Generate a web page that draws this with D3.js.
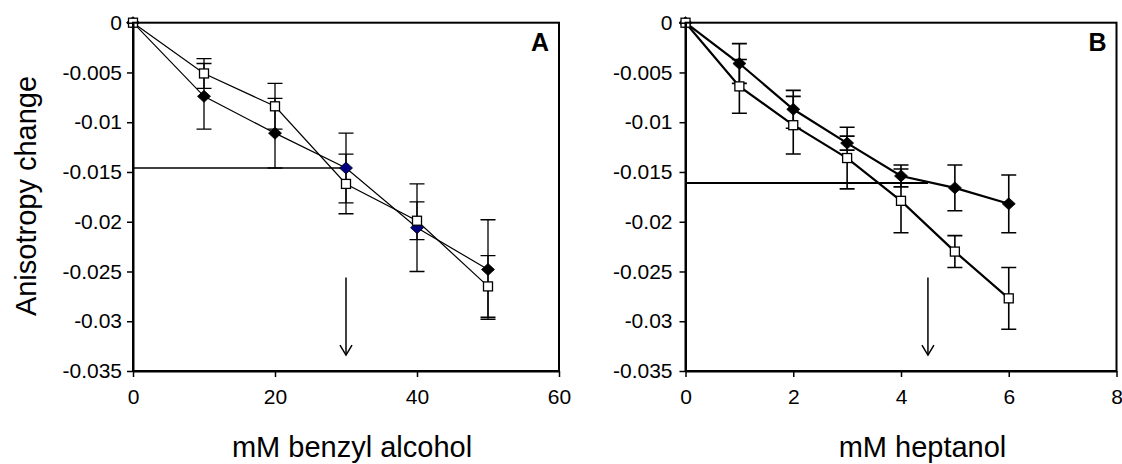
<!DOCTYPE html>
<html>
<head>
  <meta charset="utf-8">
  <title>Anisotropy change</title>
  <script src="https://d3js.org/d3.v7.min.js"></script>
  <style>
    body { margin: 0; background: #fff; }
    svg text { font-family: "Liberation Sans", Arial, sans-serif; fill: #000; }
    .axis path, .axis line { stroke: #000; }
  </style>
</head>
<body>
  <svg id="chart" width="1122" height="464"></svg>
  <script>
    // panel A: benzyl alcohol
    var concA = [0, 10, 20, 30, 40, 50],
        squareA = [0, -0.0051, -0.0084, -0.0162, -0.0199, -0.0265],
        squareAErr = [0, 0.0015, 0.0023, 0.0030, 0.0019, 0.0031],
        diamondA = [0, -0.0074, -0.0111, -0.0146, -0.0206, -0.0248],
        diamondAErr = [0, 0.0033, 0.0035, 0.0035, 0.0044, 0.0050],
        refA = { x: 30, y: -0.0146 };

    // panel B: heptanol
    var concB = [0, 1, 2, 3, 4, 5, 6],
        squareB = [0, -0.0064, -0.0103, -0.0136, -0.0179, -0.0230, -0.0277],
        squareBErr = [0, 0.0027, 0.0029, 0.0031, 0.0032, 0.0016, 0.0031],
        diamondB = [0, -0.0041, -0.0087, -0.0121, -0.0154, -0.0166, -0.0182],
        diamondBErr = [0, 0.0020, 0.0019, 0.0007, 0.0011, 0.0023, 0.0029],
        refB = { x: 4.5, y: -0.0161 };

    var yTicks = [0, -0.005, -0.01, -0.015, -0.02, -0.025, -0.03, -0.035],
        yTickLabels = ['0', '-0.005', '-0.01', '-0.015', '-0.02', '-0.025', '-0.03', '-0.035'],
        xTicksA = [0, 20, 40, 60],
        xTicksB = [0, 2, 4, 6, 8],
        arrowFrom = -0.0256, arrowTo = -0.0334;

    var svg = d3.select('#chart');
    var plotTop = 22.7, plotBottom = 371;

    function panel(opt) {
      var x = d3.scaleLinear().domain(opt.xDomain).range([opt.left, opt.right]),
          y = d3.scaleLinear().domain([-0.035, 0]).range([plotBottom, plotTop]);
      var g = svg.append('g');

      // reference line
      g.append('line')
          .attr('x1', x(0)).attr('x2', x(opt.ref.x))
          .attr('y1', y(opt.ref.y)).attr('y2', y(opt.ref.y))
          .attr('stroke', '#000').attr('stroke-width', opt.refWidth);

      // arrow
      g.append('line')
          .attr('x1', x(opt.ref.x)).attr('x2', x(opt.ref.x))
          .attr('y1', y(arrowFrom)).attr('y2', y(arrowTo))
          .attr('stroke', '#000').attr('stroke-width', 1.5);
      g.append('path')
          .attr('d', 'M' + (x(opt.ref.x) - 6) + ',' + (y(arrowTo) - 10) +
                     'L' + x(opt.ref.x) + ',' + y(arrowTo) +
                     'L' + (x(opt.ref.x) + 6) + ',' + (y(arrowTo) - 10))
          .attr('fill', 'none').attr('stroke', '#000').attr('stroke-width', 1.5);

      // error bars
      [[opt.diamond, opt.diamondErr], [opt.square, opt.squareErr]].forEach(function(s) {
        opt.conc.forEach(function(c, i) {
          var e = s[1][i];
          if (!e) return;
          var cx = x(c), y1 = y(s[0][i] + e), y2 = y(s[0][i] - e);
          g.append('path')
              .attr('d', 'M' + cx + ',' + y1 + 'V' + y2 +
                         'M' + (cx - 7.5) + ',' + y1 + 'H' + (cx + 7.5) +
                         'M' + (cx - 7.5) + ',' + y2 + 'H' + (cx + 7.5))
              .attr('fill', 'none').attr('stroke', '#000').attr('stroke-width', opt.errWidth);
        });
      });

      var line = d3.line()
          .x(function(d) { return x(d[0]); })
          .y(function(d) { return y(d[1]); });

      g.append('path')
          .attr('d', line(d3.zip(opt.conc, opt.diamond)))
          .attr('fill', 'none').attr('stroke', '#000').attr('stroke-width', opt.lineWidth);
      g.append('path')
          .attr('d', line(d3.zip(opt.conc, opt.square)))
          .attr('fill', 'none').attr('stroke', '#000').attr('stroke-width', opt.lineWidth);

      // diamonds, then squares on top
      g.selectAll('.dia')
        .data(d3.zip(opt.conc, opt.diamond))
        .enter().append('path')
          .attr('class', 'dia')
          .attr('d', function(d) {
            var cx = x(d[0]), cy = y(d[1]);
            return 'M' + cx + ',' + (cy - 6) + 'L' + (cx + 6.5) + ',' + cy +
                   'L' + cx + ',' + (cy + 6) + 'L' + (cx - 6.5) + ',' + cy + 'Z';
          })
          .attr('fill', function(d, i) { return opt.navy.indexOf(i) >= 0 ? '#000080' : '#000'; })
          .attr('stroke', '#000').attr('stroke-width', 0.8);

      g.selectAll('.sq')
        .data(d3.zip(opt.conc, opt.square))
        .enter().append('rect')
          .attr('class', 'sq')
          .attr('x', function(d) { return x(d[0]) - 4.5; })
          .attr('y', function(d) { return y(d[1]) - 4.5; })
          .attr('width', 9).attr('height', 9)
          .attr('fill', '#fff').attr('stroke', '#000').attr('stroke-width', 1.3);

      // frame
      g.append('rect')
          .attr('x', opt.left).attr('y', plotTop)
          .attr('width', opt.right - opt.left).attr('height', plotBottom - plotTop)
          .attr('fill', 'none').attr('stroke', '#000').attr('stroke-width', 2);

      // axes
      var ax = g.append('g')
          .attr('class', 'axis')
          .attr('transform', 'translate(0,' + plotBottom + ')')
          .call(d3.axisBottom(x).tickValues(opt.xTicks).tickSize(6).tickSizeOuter(0).tickPadding(12));
      ax.select('.domain').attr('stroke-width', 2);
      ax.selectAll('.tick line').attr('stroke-width', 1.5);
      ax.selectAll('text').style('font-size', '21px').attr('fill', '#000');

      var ay = g.append('g')
          .attr('class', 'axis')
          .attr('transform', 'translate(' + opt.left + ',0)')
          .call(d3.axisLeft(y).tickValues(yTicks).tickSize(6).tickSizeOuter(0)
            .tickPadding(opt.yPad)
            .tickFormat(function(d, i) { return yTickLabels[i]; }));
      ay.select('.domain').attr('stroke-width', 2);
      ay.selectAll('.tick line').attr('stroke-width', 1.5);
      ay.selectAll('text').style('font-size', '21px').attr('fill', '#000');

      // panel letter
      g.append('text')
          .attr('x', opt.right - 10).attr('y', 51)
          .attr('text-anchor', 'end')
          .style('font-size', '25px').attr('font-weight', 'bold')
          .text(opt.letter);

      // x title
      g.append('text')
          .attr('x', opt.titleX).attr('y', 457)
          .attr('text-anchor', 'middle')
          .style('font-size', '29px')
          .text(opt.title);
    }

    panel({
      left: 133, right: 559, xDomain: [0, 60], xTicks: xTicksA,
      conc: concA, square: squareA, squareErr: squareAErr,
      diamond: diamondA, diamondErr: diamondAErr, ref: refA,
      lineWidth: 1.2, errWidth: 1.3, refWidth: 1.3, navy: [3, 4], yPad: 5,
      letter: 'A', title: 'mM benzyl alcohol', titleX: 352
    });

    panel({
      left: 685.5, right: 1116.5, xDomain: [0, 8], xTicks: xTicksB,
      conc: concB, square: squareB, squareErr: squareBErr,
      diamond: diamondB, diamondErr: diamondBErr, ref: refB,
      lineWidth: 2.2, errWidth: 1.6, refWidth: 2, navy: [], yPad: 7,
      letter: 'B', title: 'mM heptanol', titleX: 922.5
    });

    svg.append('text')
        .attr('transform', 'translate(36,196) rotate(-90)')
        .attr('text-anchor', 'middle')
        .style('font-size', '29px')
        .text('Anisotropy change');
  </script>
</body>
</html>
